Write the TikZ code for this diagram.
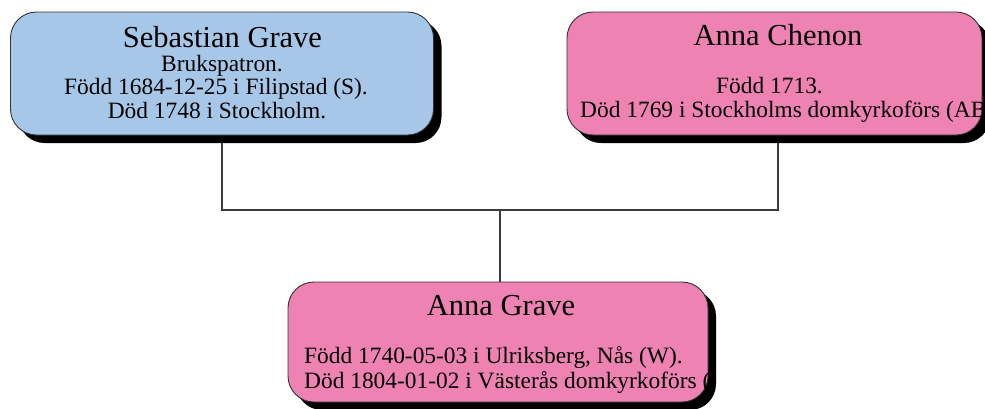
\documentclass[tikz,border=0pt]{standalone}
\usepackage{fontspec}
\setmainfont{Liberation Serif}
\usetikzlibrary{shadows}
\definecolor{boxblue}{RGB}{167,199,233}
\definecolor{boxpink}{RGB}{238,130,178}
\definecolor{edgegray}{RGB}{50,50,50}
\definecolor{linegray}{RGB}{60,60,60}
\pgfdeclarelayer{bg}
\pgfsetlayers{bg,main}
\begin{document}
\begin{tikzpicture}[x=1pt,y=1pt,
  personbox/.style={draw=edgegray,line width=0.9pt,rounded corners=26pt,inner sep=0pt,
    drop shadow={shadow xshift=8pt,shadow yshift=-8pt,fill=black,opacity=1}},
  namefont/.style={font=\fontsize{30.5}{31}\selectfont,inner sep=0pt,anchor=base},
  infofont/.style={font=\fontsize{23.4}{23.4}\selectfont,inner sep=0pt},
  link/.style={draw=linegray,line width=1.1pt}]
\useasboundingbox (0,0) rectangle (985,-408);
% boxes
\node[personbox,fill=boxblue,minimum width=423pt,minimum height=123pt] (b1) at (222,-73.5) {};
\node[personbox,fill=boxpink,minimum width=415pt,minimum height=123pt] (b2) at (774.5,-73.5) {};
\node[personbox,fill=boxpink,minimum width=420pt,minimum height=120pt] (b3) at (498,-342) {};
% connectors
\coordinate (mid) at (500,-210);
\coordinate (b2drop) at ([xshift=3.5pt]b2.south);
\begin{pgfonlayer}{bg}
\draw[link] (b1.south) |- (mid) -| (b2drop);
\draw[link] (mid) -- (mid |- b3.north);
\end{pgfonlayer}
% texts
\begin{scope}
\clip[rounded corners=26pt] (b1.south west) rectangle (b1.north east);
\node[namefont] (t1a) at (222.5,-47) {Sebastian Grave};
\node[infofont,anchor=base] (t1b) at (222,-71) {Brukspatron.};
\node[infofont,anchor=base] (t1c) at (216,-94.5) {Född 1684-12-25 i Filipstad (S).};
\node[infofont,anchor=base] (t1d) at (217,-118) {Död 1748 i Stockholm.};
\end{scope}
\begin{scope}
\clip[rounded corners=26pt] (b2.south west) rectangle (b2.north east);
\node[namefont] (t2a) at (778,-45) {Anna Chenon};
\node[infofont,anchor=base] (t2b) at (769.5,-93) {Född 1713.};
\node[infofont,anchor=base west] (t2c) at (580,-117) {Död 1769 i Stockholms domkyrkoförs (AB).};
\end{scope}
\begin{scope}
\clip[rounded corners=26pt] (b3.south west) rectangle (b3.north east);
\node[namefont] (t3a) at (501,-315) {Anna Grave};
\node[infofont,anchor=base west] (t3b) at (304,-363) {Född 1740-05-03 i Ulriksberg, Nås (W).};
\node[infofont,anchor=base west] (t3c) at (304,-388) {Död 1804-01-02 i Västerås domkyrkoförs (U).};
\end{scope}
\end{tikzpicture}
\end{document}
